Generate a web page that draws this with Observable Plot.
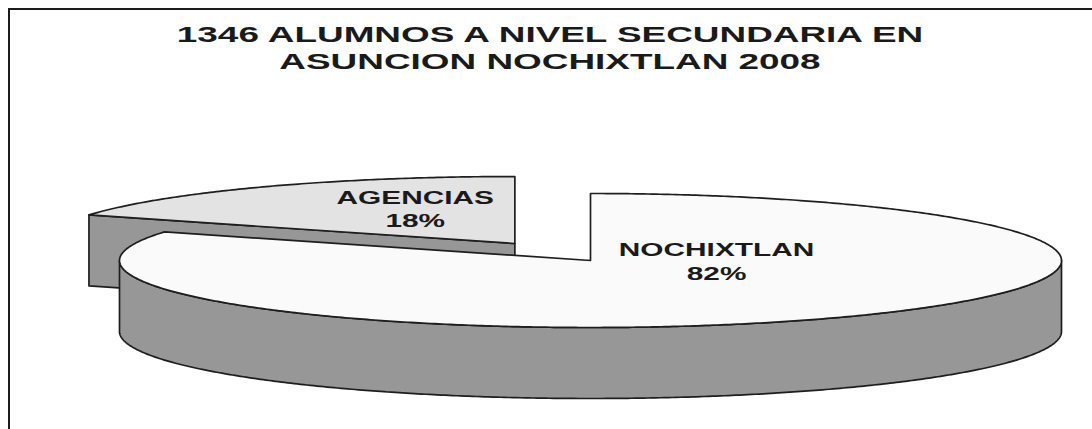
<!DOCTYPE html>
<html><head><meta charset="utf-8">
<script src="https://cdn.jsdelivr.net/npm/d3@7"></script>
<script src="https://cdn.jsdelivr.net/npm/@observablehq/plot@0.6"></script>
<style>
html,body{margin:0;padding:0;background:#fff;overflow:hidden;width:1092px;height:429px;}
#frame{position:absolute;left:8px;top:8px;width:1200px;height:600px;border-left:2.5px solid #1c1c1c;border-top:2.5px solid #1c1c1c;}
#chart{position:absolute;left:0;top:0;}
#title{position:absolute;left:4px;top:22px;width:1092px;text-align:center;font:bold 22.5px "Liberation Sans",Arial,sans-serif;color:#1a1a1a;line-height:26.5px;}
#title div{transform:scaleX(1.64);}
</style></head><body>
<div id="frame"></div>
<div id="chart"></div>
<div id="title"></div>
<script>
// ---- data ----
const titleLines = ["1346 ALUMNOS A NIVEL SECUNDARIA EN", "ASUNCION NOCHIXTLAN 2008"];
const categories = ["NOCHIXTLAN", "AGENCIAS"];
const students = [1104, 242];

// ---- layout / style ----
const G = {cx: 590, cy: 260, rx: 471, ry: 67, depth: 71};
const explode = [0, 0.3];
const labelPlace = [[0.5, 0.0], [0.395, 0.63]];
const topFill = ["#fafafa", "#e3e3e3"];
const sideFill = "#979797";
const edge = "#1e1e1e";

document.getElementById("title").innerHTML = titleLines.map(t => `<div>${t}</div>`).join("");

const total = d3.sum(students);
const arcs = d3.pie().sort(null).value(d => d)(students);

function pt(a, ox, oy, dz = 0) {
  return {x: G.cx + ox + G.rx * Math.sin(a), y: G.cy + oy - G.ry * Math.cos(a) + dz};
}
function arcPts(a0, a1, ox, oy, dz = 0) {
  const n = Math.max(2, Math.ceil(Math.abs(a1 - a0) / (Math.PI / 360)));
  return d3.range(n + 1).map(k => pt(a0 + (a1 - a0) * k / n, ox, oy, dz));
}

const slices = arcs.map((a, i) => {
  const mid = (a.startAngle + a.endAngle) / 2;
  const e = explode[i];
  const ox = e * G.rx * Math.sin(mid), oy = -e * G.ry * Math.cos(mid);
  return {i, a0: a.startAngle, a1: a.endAngle, mid, ox, oy};
});

const polygons = [];
const order = slices.slice().sort((p, q) => p.oy - q.oy);
for (const s of order) {
  const apex = {x: G.cx + s.ox, y: G.cy + s.oy};
  const apexB = {x: apex.x, y: apex.y + G.depth};
  if (Math.sin(s.a0) < -1e-6) {
    const o = pt(s.a0, s.ox, s.oy), ob = pt(s.a0, s.ox, s.oy, G.depth);
    polygons.push({fill: sideFill, points: [apex, o, ob, apexB]});
  }
  if (Math.sin(s.a1) > 1e-6) {
    const o = pt(s.a1, s.ox, s.oy), ob = pt(s.a1, s.ox, s.oy, G.depth);
    polygons.push({fill: sideFill, points: [apex, o, ob, apexB]});
  }
  const lo = Math.max(s.a0, Math.PI / 2), hi = Math.min(s.a1, 3 * Math.PI / 2);
  if (hi > lo) {
    const top = arcPts(lo, hi, s.ox, s.oy);
    const bot = arcPts(lo, hi, s.ox, s.oy, G.depth).reverse();
    polygons.push({fill: sideFill, points: top.concat(bot)});
  }
  polygons.push({fill: topFill[s.i], points: [apex].concat(arcPts(s.a0, s.a1, s.ox, s.oy))});
}

const labels = slices.map(s => ({
  x: G.cx + s.ox + labelPlace[s.i][0] * G.rx * Math.sin(s.mid),
  y: G.cy + s.oy - labelPlace[s.i][1] * G.ry * Math.cos(s.mid),
  text: `${categories[s.i]}\n${Math.round(students[s.i] / total * 100)}%`
}));

const chart = Plot.plot({
  width: 1092, height: 429, margin: 0,
  x: {domain: [0, 1092], range: [0, 1092], axis: null},
  y: {domain: [0, 429], range: [0, 429], axis: null},
  style: {background: "transparent", overflow: "visible"},
  marks: [
    ...polygons.map(p => Plot.line(p.points, {
      x: "x", y: "y", curve: "linear-closed",
      fill: p.fill, stroke: edge, strokeWidth: 1.7, strokeLinejoin: "round"
    })),
    Plot.text(labels, {
      x: "x", y: "y", text: "text",
      fontSize: 19, fontWeight: "bold", fontFamily: "Liberation Sans, Arial, sans-serif",
      lineHeight: 1.26, lineAnchor: "middle", textAnchor: "middle", fill: "#1a1a1a"
    })
  ]
});
document.getElementById("chart").appendChild(chart);
chart.querySelectorAll('g[aria-label="text"] text').forEach(t => {
  const tr = t.getAttribute("transform");
  if (tr) t.setAttribute("transform", tr + " scale(1.57,1)");
});
</script>
</body></html>
